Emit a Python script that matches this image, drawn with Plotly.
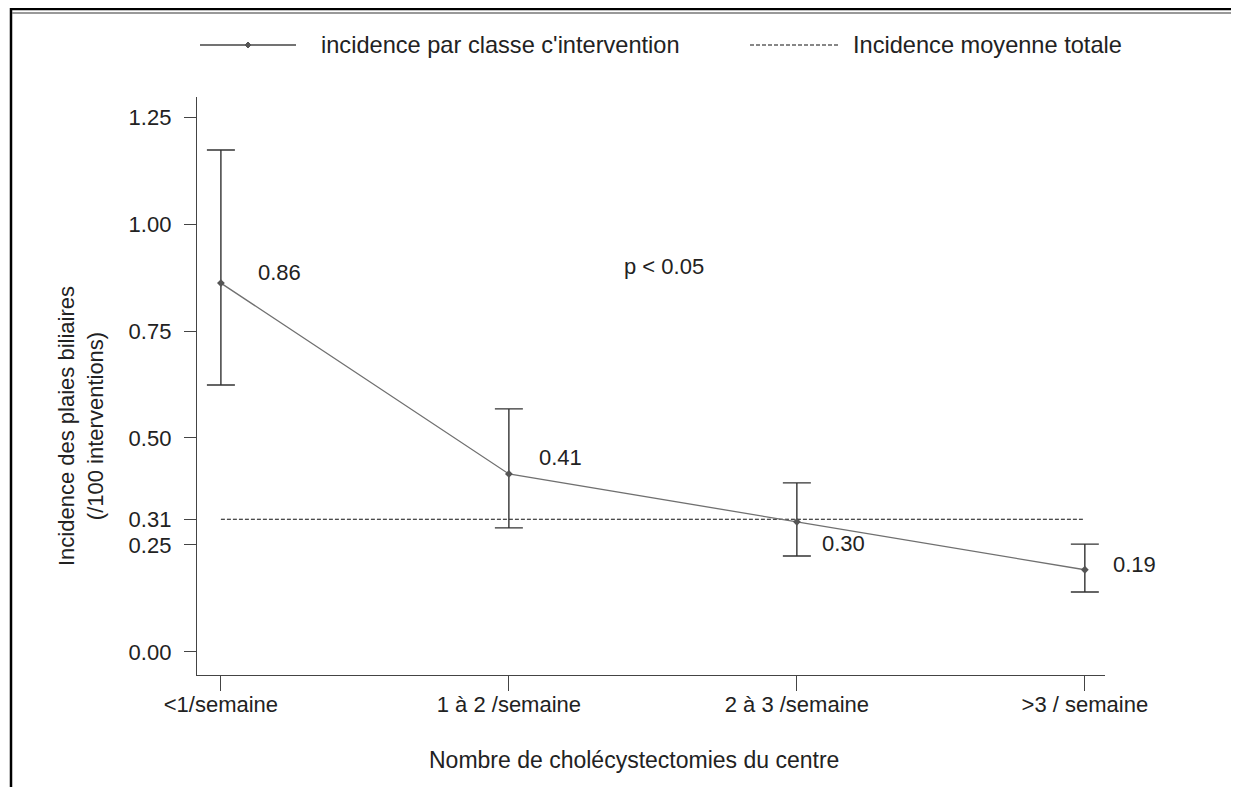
import plotly.graph_objects as go

categories = ["<1/semaine", "1 à 2 /semaine", "2 à 3 /semaine", ">3 / semaine"]
incidence = [0.862, 0.416, 0.304, 0.192]
ci_upper = [1.173, 0.568, 0.395, 0.252]
ci_lower = [0.624, 0.290, 0.224, 0.140]
value_labels = ["0.86", "0.41", "0.30", "0.19"]
mean_total = 0.31
y_ticks = [0.0, 0.25, 0.31, 0.50, 0.75, 1.00, 1.25]
p_text = "p < 0.05"

FONT = "Liberation Sans, Arial, sans-serif"
TXT = "#222222"

x_idx = list(range(len(categories)))
err_plus = [u - v for u, v in zip(ci_upper, incidence)]
err_minus = [v - l for v, l in zip(incidence, ci_lower)]


# page pixel -> paper coords (plot area spans x 197..1105, y 97..675 on the page)
def px_x(p):
    return (p - 197) / 908


def px_y(p):
    return (675 - p) / 578


fig = go.Figure()

# mean reference line
fig.add_trace(go.Scatter(
    x=[x_idx[0], x_idx[-1]], y=[mean_total, mean_total], mode="lines",
    line=dict(color="#111111", width=1.2, dash="4px,2px"),
    name="Incidence moyenne totale", hoverinfo="skip"))

# incidence per class with CI
fig.add_trace(go.Scatter(
    x=x_idx, y=incidence, mode="lines+markers",
    line=dict(color="#707070", width=1.3),
    marker=dict(symbol="diamond", size=6, color="#555555"),
    error_y=dict(type="data", symmetric=False, array=err_plus, arrayminus=err_minus,
                 color="#333333", thickness=1.4, width=14),
    name="incidence par classe c'intervention"))

# value labels next to the points
offsets = [(59, 11), (52, 16), (47, -22), (50, 5)]
for i, (lab, (dx, dy)) in enumerate(zip(value_labels, offsets)):
    fig.add_annotation(x=x_idx[i], y=incidence[i], text=lab, showarrow=False,
                       xshift=dx, yshift=dy, font=dict(size=22, color=TXT, family=FONT))

fig.add_annotation(x=1.54, y=0.90, text=p_text, showarrow=False,
                   font=dict(size=22, color=TXT, family=FONT))

# hand-drawn legend (long line samples as in the original)
ly = px_y(45)
fig.add_shape(type="line", xref="paper", yref="paper", x0=px_x(200), x1=px_x(296), y0=ly, y1=ly,
              line=dict(color="#444444", width=1.3))
fig.add_shape(type="path", xref="paper", yref="paper",
              path=f"M {px_x(245)},{ly} L {px_x(248)},{px_y(42)} L {px_x(251)},{ly} L {px_x(248)},{px_y(48)} Z",
              fillcolor="#555555", line=dict(color="#555555", width=1))
fig.add_annotation(xref="paper", yref="paper", x=px_x(319), y=ly, xanchor="left", yanchor="middle",
                   showarrow=False, text="incidence par classe c'intervention",
                   font=dict(size=23.6, color=TXT, family=FONT))
fig.add_shape(type="line", xref="paper", yref="paper", x0=px_x(750), x1=px_x(840), y0=ly, y1=ly,
              line=dict(color="#111111", width=1.2, dash="4px,2px"))
fig.add_annotation(xref="paper", yref="paper", x=px_x(851), y=ly, xanchor="left", yanchor="middle",
                   showarrow=False, text="Incidence moyenne totale",
                   font=dict(size=23.6, color=TXT, family=FONT))

# axis titles
fig.add_annotation(xref="paper", yref="paper", x=px_x(634), y=px_y(760), xanchor="center",
                   yanchor="middle", showarrow=False,
                   text="Nombre de cholécystectomies du centre",
                   font=dict(size=23, color=TXT, family=FONT))
fig.add_annotation(xref="paper", yref="paper", x=px_x(81), y=px_y(426), xanchor="center",
                   yanchor="middle", showarrow=False, textangle=-90,
                   text="Incidence des plaies biliaires<br>(/100 interventions)",
                   font=dict(size=22, color=TXT, family=FONT))

# outer frame
fig.add_shape(type="rect", xref="paper", yref="paper", x0=px_x(11), x1=px_x(1233),
              y0=px_y(800), y1=px_y(9), line=dict(color="#000000", width=2.5))
fig.add_shape(type="line", xref="paper", yref="paper", x0=px_x(12), x1=px_x(1232),
              y0=px_y(13), y1=px_y(13), line=dict(color="#777777", width=1.5))

# the page body adds an 8px margin, so the figure is shifted by that amount
fig.update_layout(
    width=1231, height=779,
    margin=dict(l=189, r=134, t=89, b=112),
    plot_bgcolor="white", paper_bgcolor="white",
    font=dict(family=FONT, size=22, color=TXT),
    showlegend=False,
)
fig.update_xaxes(
    range=[-0.083, 3.07], tickvals=x_idx, ticktext=categories,
    showgrid=False, zeroline=False, showline=True, linecolor="#444444", linewidth=1.3,
    ticks="outside", ticklen=15, tickcolor="#444444", tickwidth=1.3, ticklabelstandoff=-6,
    tickfont=dict(size=22, color=TXT, family=FONT),
)
fig.update_yaxes(
    range=[-0.054, 1.297], tickvals=y_ticks, ticktext=[f"{v:.2f}" for v in y_ticks],
    showgrid=False, zeroline=False, showline=True, linecolor="#444444", linewidth=1.3,
    ticks="outside", ticklen=12, tickcolor="#444444", tickwidth=1.3, ticklabelstandoff=8,
    tickfont=dict(size=22, color=TXT, family=FONT),
)

fig.write_html("out.html")
